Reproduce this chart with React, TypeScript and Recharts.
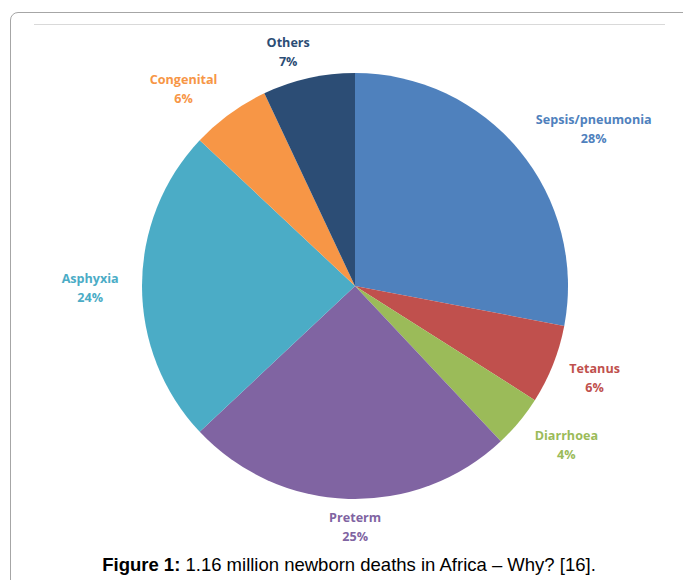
import { Cell, Pie, PieChart } from 'recharts'

const causes = ['Sepsis/pneumonia', 'Tetanus', 'Diarrhoea', 'Preterm', 'Asphyxia', 'Congenital', 'Others']
const shares = [28, 6, 4, 25, 24, 6, 7]

const COLORS = ['#4F81BD', '#C0504D', '#9BBB59', '#8064A2', '#4BACC6', '#F79646', '#2C4D75']
// small hand nudges so labels sit where Excel put them
const NUDGE: Record<string, [number, number]> = {
  'Sepsis/pneumonia': [21, -1],
  Tetanus: [7, 2],
  Diarrhoea: [13, 3],
  Preterm: [8, -3],
  Asphyxia: [-11, 2],
  Congenital: [-18, 0],
  Others: [-13, 4],
}

const data = causes.map((name, i) => ({ name, value: shares[i] }))

const RAD = Math.PI / 180

function renderLabel(props: any) {
  const { cx, cy, midAngle, outerRadius, index } = props
  const name = causes[index]
  const cos = Math.cos(-midAngle * RAD)
  const sin = Math.sin(-midAngle * RAD)
  const r = outerRadius + 12
  const w = name.length * 7.2
  const [nx, ny] = NUDGE[name] ?? [0, 0]
  const x = cx + r * cos + (cos * w) / 2 + nx
  const y = cy + r * sin + (sin * 38) / 2 + ny
  return (
    <text
      x={x}
      y={y}
      textAnchor="middle"
      fill={COLORS[index]}
      style={{ fontFamily: '"Open Sans", sans-serif', fontWeight: 700, fontSize: 12.6 }}
    >
      <tspan x={x} dy={-5}>{name}</tspan>
      <tspan x={x} dy={19}>{`${shares[index]}%`}</tspan>
    </text>
  )
}

export default function App() {
  return (
    <div style={{ position: 'absolute', left: 0, top: 0, width: 683, height: 580, overflow: 'hidden', background: '#fff' }}>
      <style>{`.recharts-pie-sectors { filter: drop-shadow(0 0 2.5px rgba(0,0,0,0.35)); }`}</style>
      <div
        style={{
          position: 'absolute',
          left: 10,
          top: 12,
          width: 720,
          height: 620,
          border: '1px solid #a6a6a6',
          borderRadius: 8,
        }}
      />
      <div style={{ position: 'absolute', left: 34, top: 24, width: 631, height: 1, background: '#d9d9d9' }} />
      <div style={{ position: 'absolute', left: 0, top: 0 }}>
        <PieChart width={683} height={550}>
          <Pie
            data={data}
            dataKey="value"
            nameKey="name"
            cx={350}
            cy={281}
            outerRadius={213}
            startAngle={90}
            endAngle={-270}
            stroke="none"
            label={renderLabel}
            labelLine={false}
            isAnimationActive={false}
          >
            {data.map((d, i) => (
              <Cell key={d.name} fill={COLORS[i]} />
            ))}
          </Pie>
        </PieChart>
      </div>
      <div
        style={{
          position: 'absolute',
          left: 0,
          top: 554,
          width: 698,
          textAlign: 'center',
          fontFamily: '"Liberation Sans", Arial, sans-serif',
          fontSize: 18.5,
          color: '#000',
        }}
      >
        <b>Figure 1:</b> 1.16 million newborn deaths in Africa – Why? [16].
      </div>
    </div>
  )
}
